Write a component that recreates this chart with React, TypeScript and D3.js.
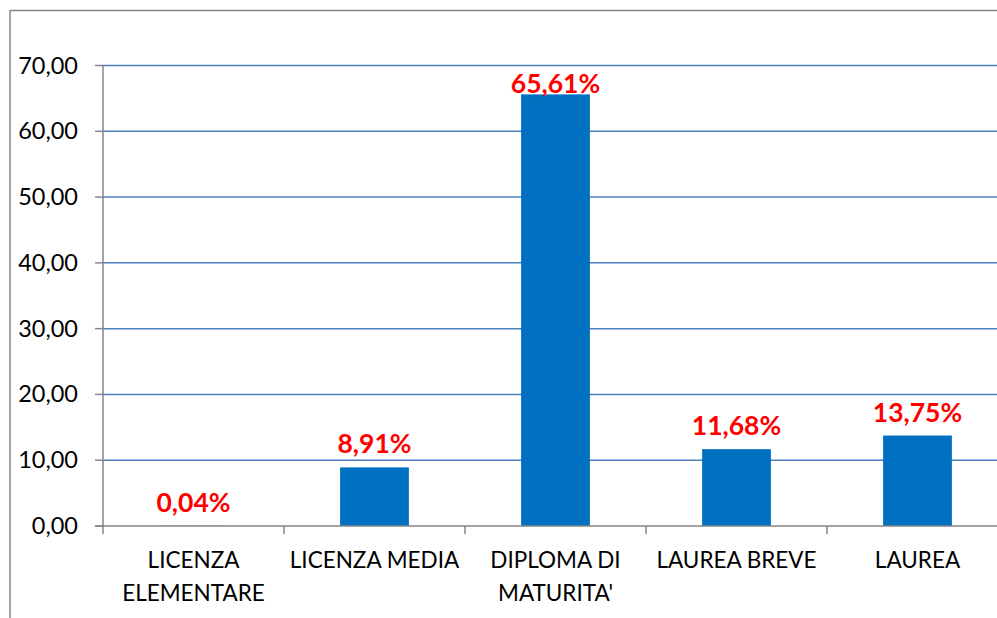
import React from 'react';
import * as d3 from 'd3';

const categories = [
  ['LICENZA', 'ELEMENTARE'],
  ['LICENZA MEDIA'],
  ['DIPLOMA DI', "MATURITA'"],
  ['LAUREA BREVE'],
  ['LAUREA'],
];
const values = [0.04, 8.91, 65.61, 11.68, 13.75];
const yTicks = [0, 10, 20, 30, 40, 50, 60, 70];

const W = 997;
const H = 618;
const font = 'Lato, "Open Sans", sans-serif';

const fmt = (v: number, d: number) => v.toFixed(d).replace('.', ',');

export default function App() {
  const left = 103, right = 1008, top = 65.5, bottom = 526;
  const x = d3.scaleBand<number>()
    .domain(categories.map((_, i) => i))
    .range([left, right])
    .paddingInner(0)
    .paddingOuter(0);
  const y = d3.scaleLinear().domain([0, 70]).range([bottom, top]);
  const bw = x.bandwidth() * 0.38;
  const boundaries = d3.range(categories.length + 1).map(i => left + i * x.step());

  return (
    <svg width={W} height={H} style={{ position: 'absolute', left: 0, top: 0, background: '#fff' }}>
      <rect x={10} y={10.5} width={W + 20} height={H + 20} fill="#fff" stroke="#868686" strokeWidth={1.5} />
      {yTicks.filter(t => t > 0).map(t => (
        <line key={'g' + t} x1={left} x2={right} y1={y(t)} y2={y(t)} stroke="#4a7ebb" strokeWidth={1.5} />
      ))}
      {values.map((v, i) => (
        <rect key={'b' + i} x={x(i)! + (x.bandwidth() - bw) / 2} y={y(v)} width={bw}
          height={bottom - y(v)} fill="#0070c0" />
      ))}
      {/* axes */}
      <line x1={left} x2={left} y1={top} y2={bottom} stroke="#868686" strokeWidth={1.5} />
      <line x1={left - 8} x2={right} y1={bottom} y2={bottom} stroke="#868686" strokeWidth={1.5} />
      {yTicks.map(t => (
        <g key={'t' + t}>
          <line x1={left - 8} x2={left} y1={y(t)} y2={y(t)} stroke="#868686" strokeWidth={1.5} />
          <text x={78} y={y(t) + 8} textAnchor="end" fontFamily={font} fontSize={23.5} fill="#000">
            {fmt(t, 2)}
          </text>
        </g>
      ))}
      {boundaries.map((b, i) => (
        <line key={'c' + i} x1={b} x2={b} y1={bottom} y2={bottom + 8} stroke="#868686" strokeWidth={1.5} />
      ))}
      {categories.map((lines, i) => (
        <text key={'l' + i} textAnchor="middle" fontFamily={font} fontSize={22.5} fill="#000">
          {lines.map((ln, j) => (
            <tspan key={j} x={x(i)! + x.bandwidth() / 2} y={567.5 + j * 33}>{ln}</tspan>
          ))}
        </text>
      ))}
      {values.map((v, i) => (
        <text key={'v' + i} x={x(i)! + x.bandwidth() / 2} y={Math.max(y(v) - 14, top + 27)}
          textAnchor="middle" fontFamily={font} fontWeight="bold" fontSize={26.5} fill="#ff0000">
          {fmt(v, 2) + '%'}
        </text>
      ))}
    </svg>
  );
}
